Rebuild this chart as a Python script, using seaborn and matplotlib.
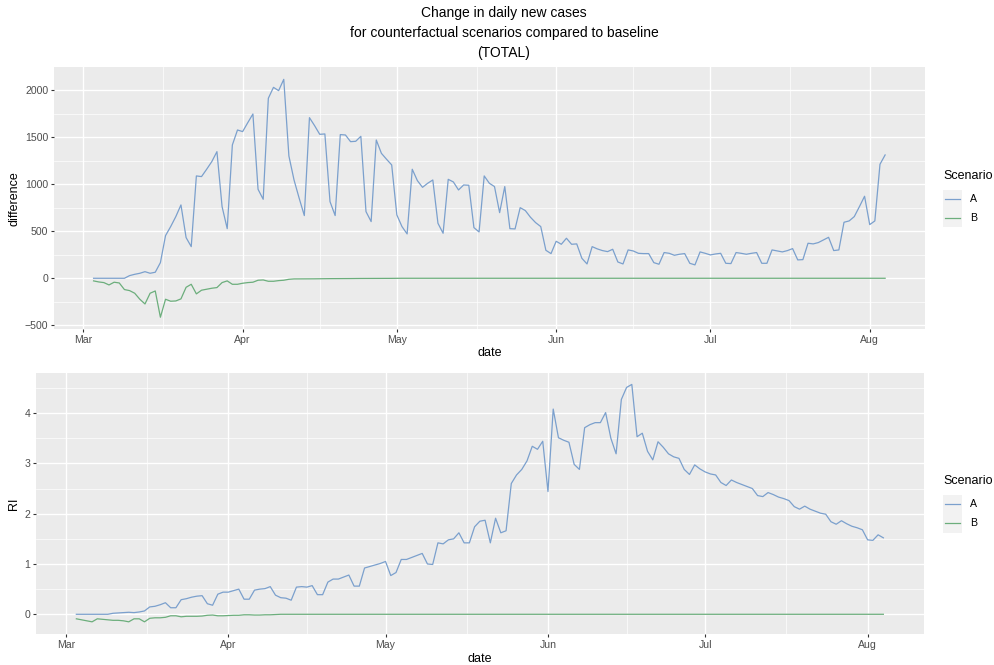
import numpy as np
import pandas as pd
import matplotlib
matplotlib.use("Agg")
import matplotlib.pyplot as plt
import matplotlib.dates as mdates
from matplotlib.lines import Line2D
from matplotlib.patches import Rectangle
import seaborn as sns

# ---------------- data ----------------
dates = pd.date_range("2020-03-03", "2020-08-04", freq="D")

diff_A = [0, 0, 0, 0, 0, 0, 0,
          28, 42, 53, 70, 53, 64, 166, 453, 549, 655, 779, 432, 336, 1087, 1080, 1158, 1239, 1345,
          761, 527, 1416, 1575, 1558, 1653, 1745, 945, 839, 1912, 2028, 1993, 2113, 1299, 1044, 850,
          666, 1706, 1621, 1529, 1533, 814, 666, 1526, 1522, 1451, 1455, 1508, 708, 602, 1469, 1327,
          1264, 1204, 673, 549, 471, 1158, 1037, 966, 1009, 1044, 584, 478, 1051, 1023, 938, 991, 988,
          538, 492, 1087, 1009, 974, 697, 974, 527, 524, 750, 719, 648, 591, 549, 297, 262, 393, 361,
          425, 361, 365, 212, 152, 336, 312, 294, 283, 308, 173, 152, 301, 290, 265, 262, 262, 166,
          149, 273, 265, 244, 255, 262, 159, 142, 280, 265, 248, 258, 265, 159, 156, 273, 265, 255,
          265, 273, 159, 159, 301, 290, 280, 294, 315, 195, 198, 372, 365, 379, 407, 435, 294, 301,
          595, 609, 655, 761, 871, 570, 609, 1211, 1310]

diff_B = ([-28, -39, -46, -71, -42, -50, -120,
           -131, -159, -223, -273, -159, -135, -414, -223, -244, -241, -219, -96, -64, -166, -127,
           -117, -106, -99, -46, -28, -64, -64, -53, -46, -42, -21, -18, -32, -32, -25, -21, -11, -7,
           -7, -7,
           -6, -6, -5, -5, -4, -4, -3, -3, -3, -2, -2, -2, -2, -1, -1, -1, -1]
          + [0] * 96)

ri_A = [0, 0, 0, 0, 0, 0, 0,
        0.02, 0.026, 0.033, 0.04, 0.033, 0.046, 0.066, 0.146, 0.159, 0.19, 0.23, 0.13, 0.13, 0.29,
        0.31, 0.34, 0.36, 0.37, 0.21, 0.18, 0.40, 0.44, 0.44, 0.47, 0.50, 0.30, 0.30, 0.48, 0.50,
        0.51, 0.55, 0.38, 0.33, 0.32, 0.28, 0.54, 0.55, 0.54, 0.57, 0.39, 0.39, 0.64, 0.70, 0.70,
        0.74, 0.78, 0.56, 0.56, 0.92, 0.95, 0.98, 1.01, 1.05, 0.77, 0.83, 1.09, 1.09, 1.13, 1.17,
        1.21, 1.00, 0.99, 1.42, 1.40, 1.48, 1.50, 1.62, 1.42, 1.42, 1.74, 1.85, 1.87, 1.42, 1.91,
        1.62, 1.66, 2.60, 2.77, 2.88, 3.05, 3.34, 3.28, 3.44, 2.44, 4.08, 3.51, 3.46, 3.42, 2.98,
        2.88, 3.71, 3.77, 3.81, 3.81, 4.01, 3.50, 3.19, 4.27, 4.51, 4.57, 3.53, 3.60, 3.24, 3.07,
        3.43, 3.32, 3.19, 3.13, 3.10, 2.88, 2.78, 2.97, 2.89, 2.83, 2.79, 2.77, 2.62, 2.56, 2.67,
        2.62, 2.58, 2.54, 2.50, 2.36, 2.34, 2.42, 2.38, 2.33, 2.30, 2.26, 2.14, 2.09, 2.15, 2.09,
        2.05, 2.01, 1.99, 1.84, 1.79, 1.86, 1.80, 1.75, 1.72, 1.68, 1.48, 1.47, 1.58, 1.52]

ri_B = ([-0.09, -0.11, -0.13, -0.15, -0.09, -0.10, -0.11, -0.12, -0.12, -0.13, -0.15, -0.09,
         -0.09, -0.15, -0.08, -0.07, -0.07, -0.06, -0.03, -0.03, -0.05, -0.04,
         -0.04, -0.04, -0.035, -0.02, -0.015, -0.03, -0.03, -0.025, -0.02, -0.02, -0.01, -0.01,
         -0.015, -0.015, -0.01, -0.01, -0.005]
        + [0] * 116)

scenarios = ["A", "B"]
month_ticks = ["Mar", "Apr", "May", "Jun", "Jul", "Aug"]

df = pd.concat([
    pd.DataFrame({"date": dates, "Scenario": "A", "difference": diff_A, "RI": ri_A}),
    pd.DataFrame({"date": dates, "Scenario": "B", "difference": diff_B, "RI": ri_B}),
])

# ---------------- style ----------------
FONT = ["Liberation Sans", "DejaVu Sans"]
plt.rcParams["font.family"] = FONT
palette = {"A": "#7BA0CD", "B": "#6CAE7C"}
W, H = 995, 665

fig = plt.figure(figsize=(W / 100, H / 100), dpi=100)


def px_axes(l, t, r, b):
    return fig.add_axes([l / W, 1 - b / H, (r - l) / W, (b - t) / H])


ax1 = px_axes(54, 67.3, 924.7, 329)
ax2 = px_axes(36, 373, 923.7, 634.3)

mar1 = mdates.date2num(pd.Timestamp("2020-03-01"))
month_starts = pd.to_datetime(["2020-02-01", "2020-03-01", "2020-04-01", "2020-05-01",
                               "2020-06-01", "2020-07-01", "2020-08-01", "2020-09-01"])
ms_num = mdates.date2num(month_starts)
minor_x = (ms_num[:-1] + ms_num[1:]) / 2

for ax, col, ylim, ymaj, ymin in [
    (ax1, "difference", (-539, 2241), [-500, 0, 500, 1000, 1500, 2000],
     [-250, 250, 750, 1250, 1750]),
    (ax2, "RI", (-0.398, 4.797), [0, 1, 2, 3, 4], [0.5, 1.5, 2.5, 3.5, 4.5]),
]:
    ax.set_facecolor("#EBEBEB")
    sns.lineplot(data=df, x="date", y=col, hue="Scenario", palette=palette, ax=ax,
                 legend=False, linewidth=0.9)
    ax.set_xticks(ms_num[1:7])
    ax.set_xticklabels(month_ticks)
    ax.set_xticks(minor_x, minor=True)
    ax.set_yticks(ymaj)
    ax.set_yticklabels([("\u2212" + str(abs(v)) if v < 0 else str(v)) for v in ymaj])
    ax.set_yticks(ymin, minor=True)
    ax.set_xlim(mar1 - 5.7, mar1 + 163.7)
    ax.set_ylim(*ylim)
    ax.grid(which="major", color="white", linewidth=1.0)
    ax.grid(which="minor", color="white", linewidth=0.5)
    ax.set_axisbelow(True)
    for s in ax.spines.values():
        s.set_visible(False)
    ax.tick_params(which="major", length=2.5, width=0.8, color="#333333",
                   labelsize=7.6, labelcolor="#4D4D4D", pad=1.5)
    ax.tick_params(which="minor", length=0)
    ax.set_xlabel("date", fontsize=9, labelpad=2)
    ax.set_ylabel(col, fontsize=9, labelpad=3)

# title
title_lines = ["Change in daily new cases",
               "for counterfactual scenarios compared to baseline",
               "(TOTAL)"]
for i, line in enumerate(title_lines):
    fig.text(504 / W, 1 - (12.5 + 20 * i) / H, line, ha="center", va="center", fontsize=10)


# legends
def legend(ytop):
    fig.text(943 / W, 1 - (ytop) / H, "Scenario", ha="left", va="center", fontsize=9)
    for k, s in enumerate(scenarios):
        yc = ytop + 23 + 19 * k
        fig.patches.append(Rectangle(((943) / W, 1 - (yc + 9.5) / H), 19 / W, 19 / H,
                                     transform=fig.transFigure, facecolor="#F2F2F2",
                                     edgecolor="none"))
        fig.lines.append(Line2D([945.5 / W, 960.5 / W], [1 - yc / H, 1 - yc / H],
                                transform=fig.transFigure, color=palette[s], linewidth=0.9))
        fig.text(970 / W, 1 - yc / H, s, ha="left", va="center", fontsize=7.6)


legend(176)
legend(481)

fig.savefig("out.png", dpi=100)
